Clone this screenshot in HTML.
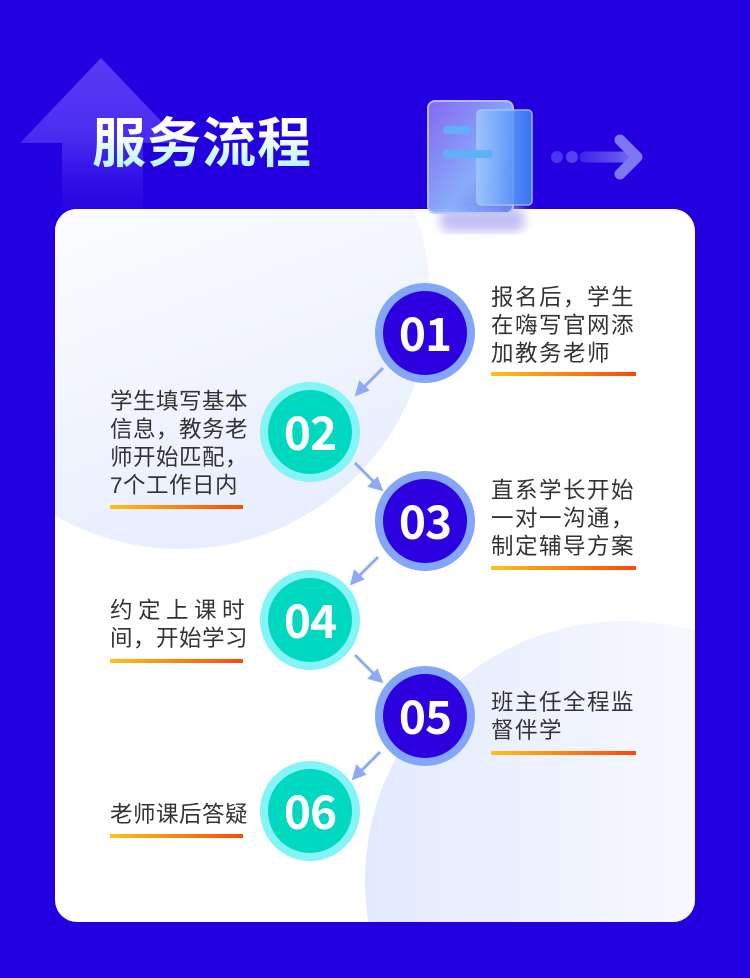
<!DOCTYPE html>
<html style="overflow:hidden"><head><meta charset="utf-8"><style>
*{margin:0;padding:0;box-sizing:border-box}
html,body{width:750px;height:978px;overflow:hidden}
body{background:#2400e0;position:relative;font-family:"Liberation Sans","Noto Sans CJK SC",sans-serif}
.abs{position:absolute}
.card{left:55px;top:209px;width:640px;height:713px;border-radius:22px;background:#fff;overflow:hidden}
.c{position:absolute;width:100px;height:100px;border-radius:50%;border:8px solid #84a6f8;background:#2d00e0;color:#fff;font:bold 46px/82px "Noto Sans CJK SC",sans-serif;text-align:center;letter-spacing:-1px;overflow:hidden}
.c.t{border-color:#85f4f6;background:#00d8c0}
.tx{position:absolute;font-size:22.5px;line-height:28px;color:#333;letter-spacing:1.5px;white-space:nowrap}
.ul{position:absolute;height:4px;background:linear-gradient(90deg,#fbc21a,#f94a08)}
</style></head><body>
<svg class="abs" style="left:0;top:0" width="750" height="240">
<defs><linearGradient id="ag" x1="0" y1="0" x2="0" y2="1"><stop offset="0" stop-color="#5a3cf4"/><stop offset="0.45" stop-color="#4a2cf0"/><stop offset="1" stop-color="#2a08e2" stop-opacity="0"/></linearGradient></defs>
<path d="M101 58 L182 143 L143 143 L143 235 L62 235 L62 143 L20 143 Z" fill="url(#ag)"/>
</svg>
<div class="abs" style="left:92px;top:112px;font:bold 54px/64px 'Liberation Sans','Noto Sans CJK SC',sans-serif;background:linear-gradient(180deg,#ffffff 30%,#a8f4fa);-webkit-background-clip:text;color:transparent;letter-spacing:1px">服务流程</div>
<div class="abs card">
<div class="abs" style="left:-125px;top:-160px;width:500px;height:500px;border-radius:50%;background:linear-gradient(160deg,#ffffff 20%,#e4ebfd)"></div>
<div class="abs" style="left:310px;top:412px;width:520px;height:520px;border-radius:50%;background:linear-gradient(90deg,#e3eafd,#ffffff 90%)"></div>
</div>
<svg class="abs" style="left:0;top:0" width="750" height="978">
<defs>
<linearGradient id="ar" gradientUnits="userSpaceOnUse" x1="580" y1="0" x2="640" y2="0"><stop offset="0" stop-color="#5b4af0" stop-opacity="0.5"/><stop offset="1" stop-color="#7d78f2"/></linearGradient>
<linearGradient id="pg" x1="0" y1="0" x2="1" y2="1"><stop offset="0" stop-color="#8a6ef5"/><stop offset="0.6" stop-color="#8fb6fb"/><stop offset="1" stop-color="#6c7cf0"/></linearGradient>
<linearGradient id="fg" x1="0" x2="1"><stop offset="0" stop-color="#9cc8fc"/><stop offset="1" stop-color="#3a7ef8"/></linearGradient>
<filter id="bl"><feGaussianBlur stdDeviation="5"/></filter></defs>
<circle cx="557" cy="157" r="6" fill="#4a35ee"/><circle cx="572" cy="157" r="6" fill="#5542ef"/>
<line x1="585" y1="157" x2="636" y2="157" stroke="url(#ar)" stroke-width="11" stroke-linecap="round"/>
<polyline points="620,140 637,157 620,174" fill="none" stroke="#7d78f2" stroke-width="11" stroke-linecap="round" stroke-linejoin="round"/>
<rect x="440" y="208" width="85" height="24" rx="10" fill="#c4c0f4" filter="url(#bl)"/>
<rect x="428" y="101" width="85" height="112" rx="7" fill="url(#pg)" stroke="#b9c6fb" stroke-width="2" opacity="0.95"/>
<rect x="477" y="110" width="55" height="95" rx="4" fill="url(#fg)" stroke="#a9c8fc" stroke-width="1.5" opacity="0.9"/>
<rect x="443" y="126" width="28" height="8" rx="4" fill="#5fb0f6"/>
<rect x="443" y="150" width="50" height="8" rx="4" fill="#5fb0f6"/>
<g stroke="#8eaaf6" stroke-width="3" fill="#8eaaf6">
<line x1="383" y1="368" x2="362" y2="389"/><polygon points="357,394 360,383 367,390"/>
<line x1="355" y1="463" x2="376" y2="484"/><polygon points="381,489 370,486 377,479"/>
<line x1="378" y1="557" x2="357" y2="578"/><polygon points="352,583 355,572 362,579"/>
<line x1="355" y1="655" x2="376" y2="676"/><polygon points="381,681 370,678 377,671"/>
<line x1="380" y1="752" x2="359" y2="773"/><polygon points="354,778 357,767 364,774"/>
</g></svg>
<div class="c" style="left:375px;top:283px">01</div>
<div class="c t" style="left:260px;top:382px">02</div>
<div class="c" style="left:375px;top:471px">03</div>
<div class="c t" style="left:260px;top:570px">04</div>
<div class="c" style="left:375px;top:666px">05</div>
<div class="c t" style="left:260px;top:761px">06</div>
<div class="tx" style="left:491px;top:284px">报名后，学生<br>在嗨写官网添<br>加教务老师</div>
<div class="ul" style="left:491px;top:372px;width:145px"></div>
<div class="tx" style="left:110px;top:388px;letter-spacing:0.5px">学生填写基本<br>信息，教务老<br>师开始匹配，<br>7个工作日内</div>
<div class="ul" style="left:110px;top:505px;width:133px"></div>
<div class="tx" style="left:491px;top:477px">直系学长开始<br>一对一沟通，<br>制定辅导方案</div>
<div class="ul" style="left:491px;top:566px;width:145px"></div>
<div class="tx" style="left:110px;top:597px;letter-spacing:0.5px"><span style="letter-spacing:5.5px">约定上课时</span><br>间，开始学习</div>
<div class="ul" style="left:110px;top:659px;width:133px"></div>
<div class="tx" style="left:491px;top:689px">班主任全程监<br>督伴学</div>
<div class="ul" style="left:491px;top:751px;width:145px"></div>
<div class="tx" style="left:110px;top:801px;letter-spacing:0.5px">老师课后答疑</div>
<div class="ul" style="left:110px;top:834px;width:133px"></div>
</body></html>
